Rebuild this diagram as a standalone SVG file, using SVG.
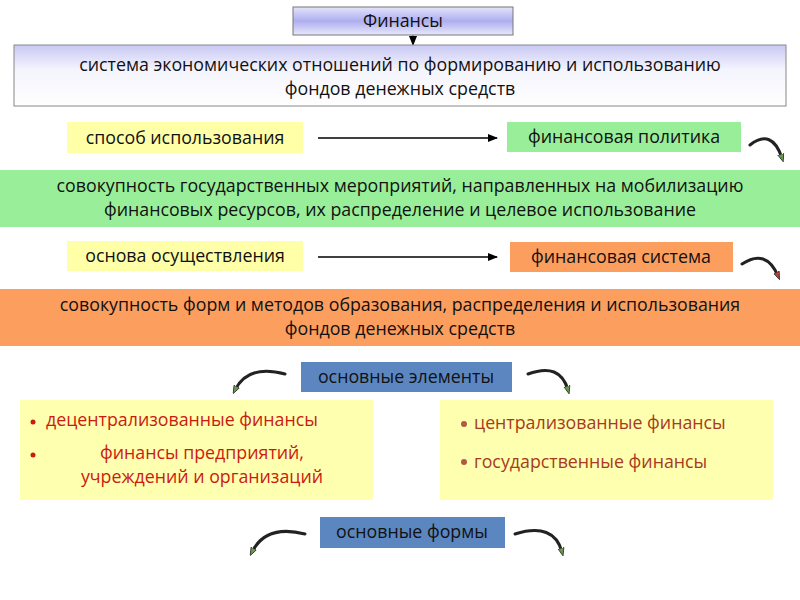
<svg xmlns="http://www.w3.org/2000/svg" width="800" height="600" viewBox="0 0 800 600">
<defs>
<linearGradient id="lav" x1="0" y1="0" x2="0" y2="1"><stop offset="0" stop-color="#e4e4fb"/><stop offset="0.5" stop-color="#aeaef0"/><stop offset="1" stop-color="#e8e8fb"/></linearGradient>
<linearGradient id="lav2" x1="0" y1="0" x2="0" y2="1"><stop offset="0" stop-color="#c8c8f4"/><stop offset="0.4" stop-color="#f4f4fd"/><stop offset="1" stop-color="#ffffff"/></linearGradient>
<marker id="ah" markerWidth="10" markerHeight="8" refX="9" refY="4" orient="auto" markerUnits="userSpaceOnUse"><path d="M0,0 L10,4 L0,8 z" fill="#000"/></marker>
<marker id="gh" markerWidth="8" markerHeight="8" refX="4" refY="4" orient="auto" markerUnits="userSpaceOnUse"><path d="M0,1 L8,4 L0,7 z" fill="#6a9a50" stroke="#333" stroke-width="0.8"/></marker>
<marker id="rh" markerWidth="8" markerHeight="8" refX="4" refY="4" orient="auto" markerUnits="userSpaceOnUse"><path d="M0,1 L8,4 L0,7 z" fill="#c04030" stroke="#333" stroke-width="0.8"/></marker>
</defs>
<style>
text{font-family:"Open Sans","DejaVu Sans",sans-serif;font-size:17.8px;fill:#111;text-anchor:middle}
.l{text-anchor:start}
.red{fill:#cc1a10}
.br{fill:#a83a20}
.cv{fill:none;stroke:#222;stroke-width:3;stroke-linecap:round}
</style>
<g id="connectors">
<line x1="413" y1="35" x2="413" y2="45" stroke="#555" stroke-width="1" marker-end="url(#ah)"/>
<line x1="318" y1="138" x2="497" y2="138" stroke="#000" stroke-width="1.3" marker-end="url(#ah)"/>
<line x1="318" y1="257" x2="497" y2="257" stroke="#000" stroke-width="1.3" marker-end="url(#ah)"/>
<path class="cv" d="M750,145 Q772,128 782,158" marker-end="url(#gh)"/>
<path class="cv" d="M742,264 Q766,248 778,276" marker-end="url(#rh)"/>
<path class="cv" d="M285,374 Q248,364 235,390" marker-end="url(#gh)"/>
<path class="cv" d="M528,374 Q560,362 568,390" marker-end="url(#gh)"/>
<path class="cv" d="M305,534 Q266,524 252,552" marker-end="url(#gh)"/>
<path class="cv" d="M515,534 Q554,522 562,552" marker-end="url(#gh)"/>
</g>
<g id="finansy"><rect x="293" y="7" width="220" height="28" fill="url(#lav)" stroke="#777"/><text x="403" y="27">Финансы</text></g>
<g id="sistema"><rect x="14" y="45" width="772" height="61" fill="url(#lav2)" stroke="#888"/><text x="400" y="71">система экономических отношений по формированию и использованию</text><text x="400" y="95">фондов денежных средств</text></g>
<g id="sposob"><rect x="67" y="122" width="236" height="31" fill="#ffffa8"/><text x="185" y="144">способ использования</text></g>
<g id="politika"><rect x="507" y="122" width="234" height="30" fill="#99ee99"/><text x="624" y="143">финансовая политика</text></g>
<g id="sovokupnost1"><rect x="0" y="170" width="800" height="57" fill="#99ee99"/><text x="400" y="192">совокупность государственных мероприятий, направленных на мобилизацию</text><text x="400" y="216">финансовых ресурсов, их распределение и целевое использование</text></g>
<g id="osnova"><rect x="67" y="241" width="236" height="30" fill="#ffffa8"/><text x="185" y="262">основа осуществления</text></g>
<g id="fsistema"><rect x="510" y="242" width="223" height="30" fill="#fb9e5e"/><text x="621" y="263">финансовая система</text></g>
<g id="sovokupnost2"><rect x="0" y="289" width="800" height="57" fill="#fb9e5e"/><text x="400" y="311">совокупность форм и методов образования, распределения и использования</text><text x="400" y="335">фондов денежных средств</text></g>
<g id="elementy"><rect x="301" y="362" width="211" height="30" fill="#5b86c0"/><text x="406" y="383">основные элементы</text></g>
<g id="left"><rect x="20" y="400" width="353" height="100" fill="#ffffb0"/>
<circle cx="33" cy="422" r="2.5" fill="#cc1a10"/><circle cx="33" cy="455" r="2.5" fill="#cc1a10"/>
<text class="l red" x="46" y="426">децентрализованные финансы</text><text class="red" x="202" y="459">финансы предприятий,</text><text class="red" x="202" y="483">учреждений и организаций</text></g>
<g id="right"><rect x="440" y="400" width="333" height="100" fill="#ffffb0"/>
<circle cx="464" cy="424" r="3" fill="#b05a40"/><circle cx="464" cy="462" r="3" fill="#b05a40"/>
<text class="l br" x="474" y="429">централизованные финансы</text><text class="l br" x="474" y="468">государственные финансы</text></g>
<g id="formy"><rect x="320" y="517" width="185" height="31" fill="#5b86c0"/><text x="412" y="538">основные формы</text></g>
</svg>
